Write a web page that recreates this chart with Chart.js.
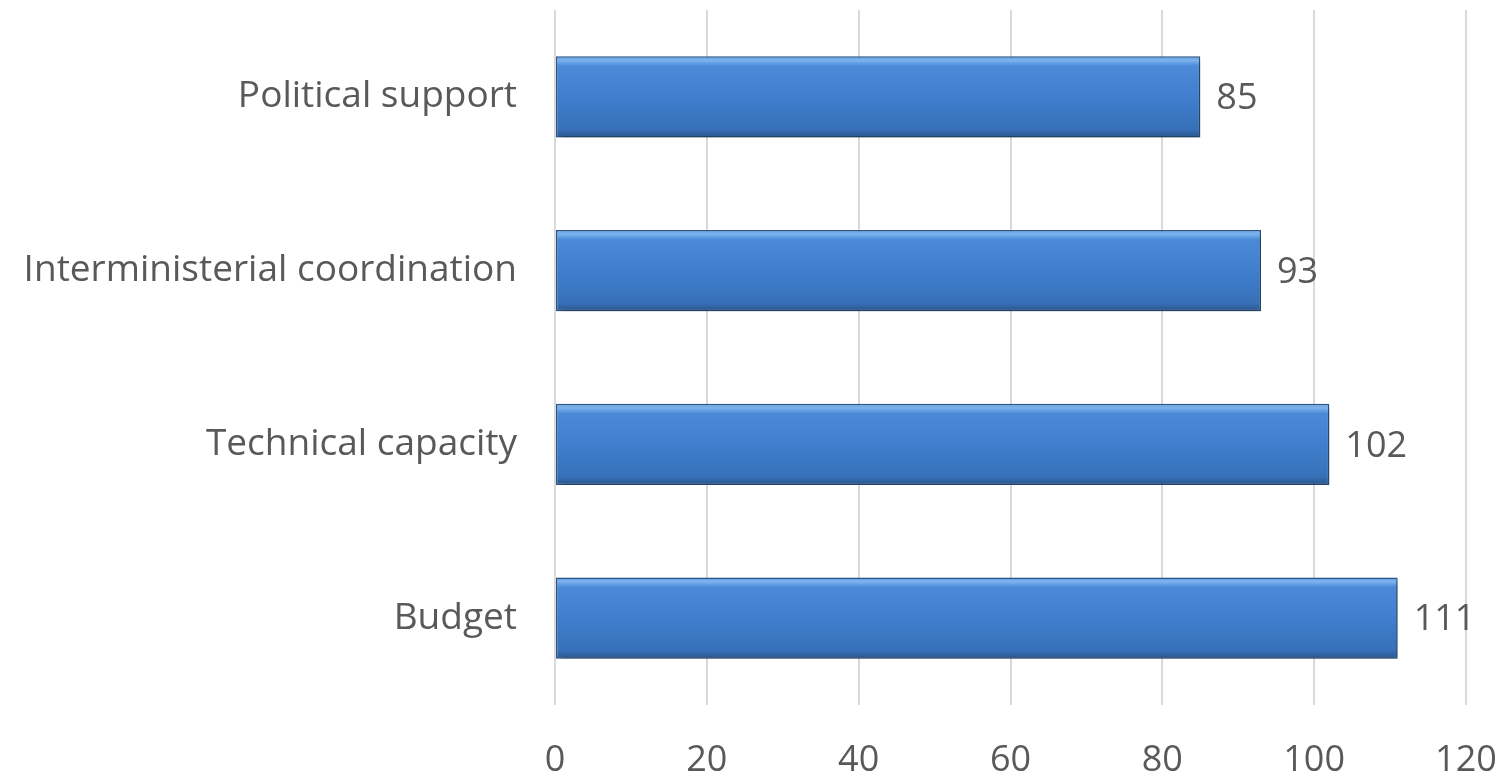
<!DOCTYPE html>
<html>
<head>
<meta charset="utf-8">
<script src="https://cdn.jsdelivr.net/npm/chart.js@4/dist/chart.umd.min.js"></script>
<style>
html,body{margin:0;padding:0;background:#fff;}
#wrap{width:1501px;height:776px;position:relative;}
</style>
</head>
<body>
<div id="wrap"><canvas id="c"></canvas></div>
<script>
const categories = ["Political support", "Interministerial coordination", "Technical capacity", "Budget"];
const values = [85, 93, 102, 111];
const xTicks = [0, 20, 40, 60, 80, 100, 120];

const FONT = "'Open Sans', sans-serif";
const TEXT = "#595959";
const BAR_PCT = 0.9, CAT_PCT = 0.52;

function barFill(c) {
  const chart = c.chart;
  const s = chart.scales && chart.scales.y;
  if (!s || !chart.chartArea) return "#4080d0";
  const y = s.getPixelForValue(c.dataIndex);
  const h = Math.abs(s.getPixelForValue(1) - s.getPixelForValue(0)) * BAR_PCT * CAT_PCT;
  const g = chart.ctx.createLinearGradient(0, y - h / 2, 0, y + h / 2);
  g.addColorStop(0, "#5f9be0");
  g.addColorStop(0.05, "#7db4ee");
  g.addColorStop(0.12, "#4a8ad8");
  g.addColorStop(0.5, "#3f7fce");
  g.addColorStop(0.9, "#3770b8");
  g.addColorStop(0.96, "#2f5f9c");
  g.addColorStop(1, "#2a5288");
  return g;
}

function zeroPad(axis) {
  axis.paddingTop = 0; axis.paddingBottom = 0;
  axis.paddingLeft = 0; axis.paddingRight = 0;
}

const shadowPlugin = {
  id: "shadow",
  beforeDatasetsDraw(chart) {
    const ctx = chart.ctx;
    ctx.save();
    ctx.shadowColor = "rgba(0,0,0,0.35)";
    ctx.shadowBlur = 6;
    ctx.shadowOffsetX = 2;
    ctx.shadowOffsetY = 3;
  },
  afterDatasetsDraw(chart) {
    chart.ctx.restore();
  }
};

const labelPlugin = {
  id: "valueLabels",
  afterDatasetsDraw(chart) {
    const ctx = chart.ctx;
    const meta = chart.getDatasetMeta(0);
    ctx.save();
    ctx.shadowColor = "transparent";
    ctx.font = "36px " + FONT;
    ctx.fillStyle = TEXT;
    ctx.textAlign = "left";
    ctx.textBaseline = "middle";
    meta.data.forEach((el, i) => {
      const p = el.getProps(["x", "y"], true);
      ctx.fillText(String(chart.data.datasets[0].data[i]), p.x + 16, p.y + 2);
    });
    ctx.restore();
  }
};

new Chart(document.getElementById("c"), {
  type: "bar",
  data: {
    labels: categories,
    datasets: [{
      data: values,
      backgroundColor: barFill,
      borderColor: "#2d5a8e",
      borderWidth: 1.5,
      borderSkipped: false,
      barPercentage: BAR_PCT,
      categoryPercentage: CAT_PCT
    }]
  },
  options: {
    indexAxis: "y",
    responsive: true,
    maintainAspectRatio: false,
    animation: false,
    layout: { padding: { top: 10, right: 35, left: 0, bottom: 0 } },
    plugins: { legend: { display: false }, tooltip: { enabled: false } },
    scales: {
      x: {
        min: 0, max: 120,
        afterBuildTicks(axis) { axis.ticks = xTicks.map(v => ({ value: v })); },
        afterFit(axis) { axis.height = 71; zeroPad(axis); },
        grid: { color: "#d9d9d9", lineWidth: 2, drawTicks: false },
        border: { display: false },
        ticks: { color: TEXT, font: { family: FONT, size: 36 }, padding: 34, maxRotation: 0 }
      },
      y: {
        afterFit(axis) { axis.width = 555; zeroPad(axis); },
        grid: { display: false, drawTicks: false },
        border: { display: false },
        ticks: { color: TEXT, font: { family: FONT, size: 37 }, padding: 38 }
      }
    }
  },
  plugins: [shadowPlugin, labelPlugin]
});
</script>
</body>
</html>
